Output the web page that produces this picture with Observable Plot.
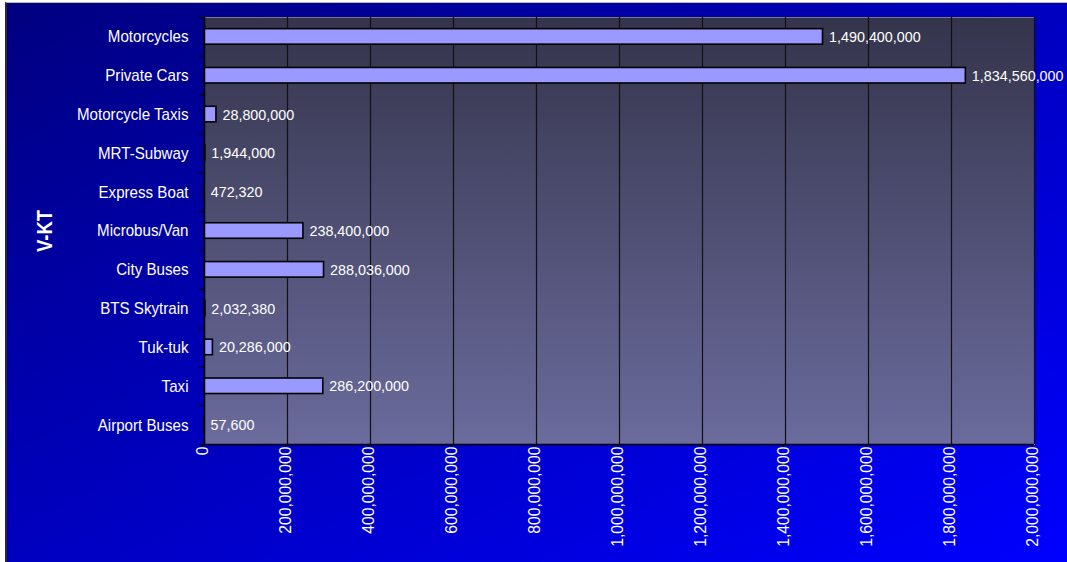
<!DOCTYPE html>
<html><head><meta charset="utf-8">
<script src="https://cdn.jsdelivr.net/npm/d3@7"></script>
<script src="https://cdn.jsdelivr.net/npm/@observablehq/plot@0.6"></script>
<style>
html,body{margin:0;padding:0;background:#fff;width:1067px;height:562px;overflow:hidden;}
#bg{position:absolute;left:5px;top:2px;right:0;bottom:0;border-left:2px solid #2a2a2a;border-top:1px solid #b8b8b8;background:linear-gradient(to bottom right,#000080,#0000ff);}
#chart{position:absolute;left:0;top:0;}
</style></head><body><div id="bg"></div><div id="chart"></div>
<script>
const categories = ["Motorcycles","Private Cars","Motorcycle Taxis","MRT-Subway","Express Boat","Microbus/Van","City Buses","BTS Skytrain","Tuk-tuk","Taxi","Airport Buses"];
const values = [1490400000,1834560000,28800000,1944000,472320,238400000,288036000,2032380,20286000,286200000,57600];
const xTicks = [0,200000000,400000000,600000000,800000000,1000000000,1200000000,1400000000,1600000000,1800000000,2000000000];
const axisTitle = "V-KT";

const data = categories.map((c,i)=>({category:c, value:values[i]}));
const fmt = d3.format(",");

const W=1067, H=562, mL=204, mR=33, mT=17, mB=118;
const step = (H-mT-mB)/categories.length;

const defsMark = () => {
  const defs = d3.create("svg:defs");
  const g = defs.append("linearGradient").attr("id","plotbg").attr("x1",0).attr("y1",0).attr("x2",0).attr("y2",1);
  g.append("stop").attr("offset","0%").attr("stop-color","#34344c");
  g.append("stop").attr("offset","100%").attr("stop-color","#6b6b9d");
  return defs.node();
};

const plot = Plot.plot({
  width: W, height: H,
  marginLeft: mL, marginRight: mR, marginTop: mT, marginBottom: mB,
  style: {fontFamily: "'Liberation Sans', Arial, sans-serif", background: "transparent", overflow: "visible"},
  x: {domain: [0, 2000000000], label: null},
  y: {domain: categories, paddingInner: 0.6, paddingOuter: 0.3, round: false, label: null},
  marks: [
    defsMark,
    Plot.frame({fill: "url(#plotbg)", stroke: "#7a7a7a"}),
    Plot.gridX(xTicks, {stroke: "#111", strokeOpacity: 1, strokeWidth: 1.2}),
    Plot.barX(data, {x: "value", y: "category", fill: "#9999ff", stroke: "#000", strokeWidth: 1.6}),
    Plot.text(data, {x: "value", y: "category", text: d => fmt(d.value), textAnchor: "start", dx: 6, fill: "white", fontSize: 15.5}),
    Plot.ruleX([0], {stroke: "#000", strokeWidth: 1.5}),
    Plot.ruleY([categories[categories.length-1]], {dy: step/2, stroke: "#000", strokeWidth: 1.5}),
    Plot.axisY({tickSize: 0, tickPadding: 16, fill: "white", fontSize: 17, label: null}),
    Plot.axisY({tickSize: 5, tickFormat: () => "", dy: -step/2, stroke: "#000", label: null}),
    Plot.axisY([categories[categories.length-1]], {tickSize: 5, tickFormat: () => "", dy: step/2, stroke: "#000", label: null}),
    Plot.axisX(xTicks, {tickSize: 4, tickPadding: -2, tickRotate: -90, tickFormat: d3.format(","), fill: "white", stroke: "#000", fontSize: 16, dx: -2, label: null}),
    Plot.text([axisTitle], {frameAnchor: "left", dx: -160, rotate: -90, textAnchor: "middle", text: d => d, fill: "white", fontWeight: "bold", fontSize: 22})
  ]
});
document.getElementById("chart").appendChild(plot);

const svg = d3.select(plot);
function squeeze(sel, f){
  sel.each(function(){
    const L = this.getComputedTextLength();
    if (L > 0) { this.setAttribute("textLength", L*f); this.setAttribute("lengthAdjust","spacingAndGlyphs"); }
  });
}
const textGroups = svg.selectAll('g[aria-label="text"]').nodes();
squeeze(svg.selectAll('g[aria-label="y-axis tick label"] text'), 0.89);
squeeze(d3.select(textGroups[0]).selectAll("text"), 0.925);
squeeze(svg.selectAll('g[aria-label="x-axis tick label"] text'), 0.98);
squeeze(d3.select(textGroups[1]).selectAll("text"), 0.84);
</script>
</body></html>
